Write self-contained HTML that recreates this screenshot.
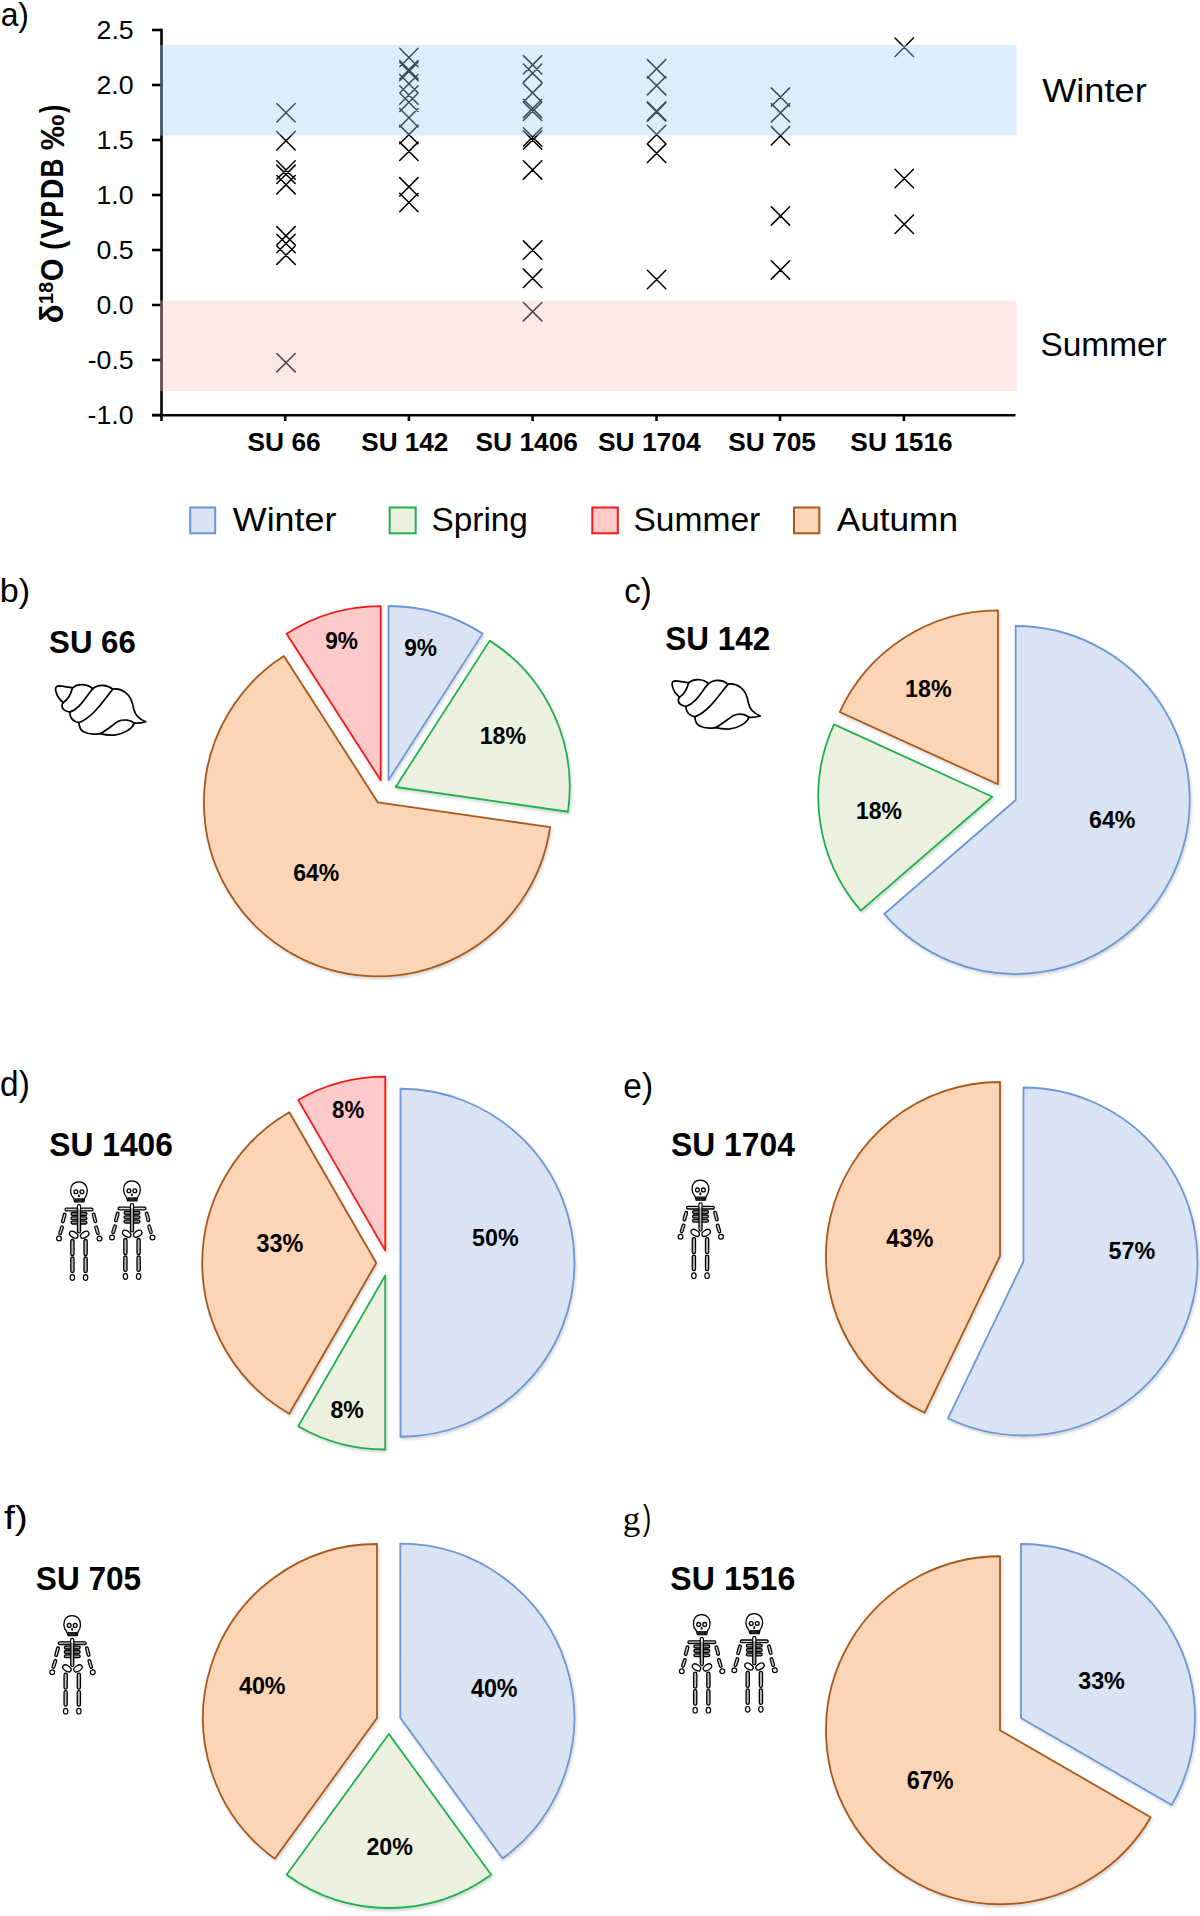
<!DOCTYPE html>
<html><head><meta charset="utf-8"><title>Figure</title>
<style>
html,body{margin:0;padding:0;background:#fff;}
svg{display:block;}
text{font-kerning:none;}
</style></head>
<body>
<svg width="1200" height="1916" viewBox="0 0 1200 1916">
<defs><filter id="sh" x="-10%" y="-10%" width="120%" height="120%"><feGaussianBlur in="SourceAlpha" stdDeviation="1.6"/><feOffset dx="0.8" dy="1.6" result="o"/><feComponentTransfer><feFuncA type="linear" slope="0.18"/></feComponentTransfer><feMerge><feMergeNode/><feMergeNode in="SourceGraphic"/></feMerge></filter><g id="shell" fill="none" stroke="#000" stroke-width="19" stroke-linejoin="round" stroke-linecap="round"><path fill="#fff" d="M200,300 C165,275 130,230 118,175 C110,138 122,118 150,118 C200,120 250,135 300,140 C330,115 370,103 410,105 C460,108 500,130 520,150 C550,125 590,112 630,113 C680,115 715,135 740,155 C775,148 835,158 880,192 C940,238 958,310 968,370 C980,430 1020,480 1100,510 C1060,522 1010,528 975,525 C950,585 870,640 760,655 C700,660 640,650 600,640 C550,648 470,648 420,620 C385,600 372,560 370,520 C310,505 270,470 270,405 C225,395 185,370 185,335 C185,320 190,310 200,300 Z"/><path d="M300,140 C285,200 250,270 200,300"/><path d="M520,150 C450,230 380,370 270,405"/><path d="M740,155 C650,260 530,460 370,520"/><path d="M600,640 C680,600 740,540 800,505 C860,480 930,490 975,525"/></g><g id="skel" stroke="#000" stroke-width="13"><path fill="#fff" d="M232,4 C292,4 320,48 318,98 C316,128 306,150 292,166 L284,204 L192,204 L180,166 C164,150 152,128 151,98 C150,48 174,4 232,4 Z"/><path d="M188,168 L286,168 L281,205 L194,205 Z" fill="#111" stroke="none"/><path d="M214,172 V202 M234,172 V202 M254,172 V202" stroke="#666" stroke-width="5"/><circle cx="204" cy="102" r="19" fill="#fff" stroke-width="13"/><circle cx="264" cy="102" r="19" fill="#fff" stroke-width="13"/><path d="M234,124 C247,136 250,156 234,156 C218,156 221,136 234,124 Z" fill="#000" stroke="none"/><rect x="96" y="267" width="278" height="26" rx="13" fill="#d8d8d8"/><rect x="156" y="310" width="158" height="28" rx="14" fill="#9a9a9a"/><rect x="156" y="353" width="158" height="28" rx="14" fill="#9a9a9a"/><rect x="156" y="397" width="158" height="28" rx="14" fill="#9a9a9a"/><rect x="220" y="232" width="30" height="282" rx="15" fill="#bbb"/><rect x="226" y="240" width="18" height="40" rx="9" fill="#fff" stroke="none"/><rect x="0" y="-13.0" width="97.5" height="26" rx="13.0" transform="translate(96,318) rotate(105.46)" fill="#ddd"/><rect x="0" y="-13.0" width="89.5" height="26" rx="13.0" transform="translate(70,445) rotate(108.23)" fill="#ddd"/><rect x="0" y="-13.0" width="95.1" height="26" rx="13.0" transform="translate(378,318) rotate(75.38)" fill="#ddd"/><rect x="0" y="-13.0" width="88.9" height="26" rx="13.0" transform="translate(402,445) rotate(72.99)" fill="#ddd"/><circle cx="35" cy="570" r="24" fill="#fff" stroke-width="12"/><circle cx="440" cy="570" r="24" fill="#fff" stroke-width="12"/><ellipse cx="182" cy="532" rx="46" ry="28" transform="rotate(32 182 532)" fill="#fff"/><ellipse cx="292" cy="532" rx="46" ry="28" transform="rotate(-32 292 532)" fill="#fff"/><rect x="153" y="580" width="32" height="160" rx="16" fill="#bbb"/><rect x="153" y="755" width="32" height="155" rx="16" fill="#bbb"/><rect x="285" y="580" width="32" height="160" rx="16" fill="#bbb"/><rect x="285" y="755" width="32" height="155" rx="16" fill="#bbb"/><ellipse cx="169" cy="960" rx="22" ry="28" fill="#fff" stroke-width="12"/><ellipse cx="301" cy="960" rx="22" ry="28" fill="#fff" stroke-width="12"/></g></defs>
<rect width="1200" height="1916" fill="#fff"/>
<g stroke-linecap="butt"><line x1="161.5" y1="28.8" x2="161.5" y2="421" stroke="#000" stroke-width="2.6"/><line x1="152" y1="30" x2="161.5" y2="30" stroke="#000" stroke-width="2.6"/><line x1="152" y1="85" x2="161.5" y2="85" stroke="#000" stroke-width="2.6"/><line x1="152" y1="140" x2="161.5" y2="140" stroke="#000" stroke-width="2.6"/><line x1="152" y1="195" x2="161.5" y2="195" stroke="#000" stroke-width="2.6"/><line x1="152" y1="250" x2="161.5" y2="250" stroke="#000" stroke-width="2.6"/><line x1="152" y1="305" x2="161.5" y2="305" stroke="#000" stroke-width="2.6"/><line x1="152" y1="360" x2="161.5" y2="360" stroke="#000" stroke-width="2.6"/><line x1="152" y1="415" x2="161.5" y2="415" stroke="#000" stroke-width="2.6"/><line x1="152" y1="415.25" x2="1015.5" y2="415.25" stroke="#000" stroke-width="2.6"/><line x1="285.2" y1="415" x2="285.2" y2="421" stroke="#000" stroke-width="2.6"/><line x1="408.9" y1="415" x2="408.9" y2="421" stroke="#000" stroke-width="2.6"/><line x1="532.6" y1="415" x2="532.6" y2="421" stroke="#000" stroke-width="2.6"/><line x1="656.5" y1="415" x2="656.5" y2="421" stroke="#000" stroke-width="2.6"/><line x1="780.0" y1="415" x2="780.0" y2="421" stroke="#000" stroke-width="2.6"/><line x1="903.9" y1="415" x2="903.9" y2="421" stroke="#000" stroke-width="2.6"/></g>
<path d="M276.80,103.55L295.20,121.95M276.80,121.95L295.20,103.55M276.80,131.55L295.20,149.95M276.80,149.95L295.20,131.55M276.80,160.80L295.20,179.20M276.80,179.20L295.20,160.80M276.80,165.10L295.20,183.50M276.80,183.50L295.20,165.10M276.80,175.50L295.20,193.90M276.80,193.90L295.20,175.50M276.80,226.60L295.20,245.00M276.80,245.00L295.20,226.60M276.80,234.30L295.20,252.70M276.80,252.70L295.20,234.30M276.80,246.00L295.20,264.40M276.80,264.40L295.20,246.00M276.80,353.50L295.20,371.90M276.80,371.90L295.20,353.50M399.70,48.30L418.10,66.70M399.70,66.70L418.10,48.30M399.70,60.55L418.10,78.95M399.70,78.95L418.10,60.55M399.70,62.30L418.10,80.70M399.70,80.70L418.10,62.30M399.70,74.55L418.10,92.95M399.70,92.95L418.10,74.55M399.70,85.80L418.10,104.20M399.70,104.20L418.10,85.80M399.70,93.05L418.10,111.45M399.70,111.45L418.10,93.05M399.70,108.55L418.10,126.95M399.70,126.95L418.10,108.55M399.70,125.40L418.10,143.80M399.70,143.80L418.10,125.40M399.70,142.10L418.10,160.50M399.70,160.50L418.10,142.10M399.70,177.60L418.10,196.00M399.70,196.00L418.10,177.60M399.70,193.30L418.10,211.70M399.70,211.70L418.10,193.30M523.40,55.60L541.80,74.00M523.40,74.00L541.80,55.60M523.40,64.00L541.80,82.40M523.40,82.40L541.80,64.00M523.40,83.60L541.80,102.00M523.40,102.00L541.80,83.60M523.40,99.20L541.80,117.60M523.40,117.60L541.80,99.20M523.40,102.10L541.80,120.50M523.40,120.50L541.80,102.10M523.40,127.80L541.80,146.20M523.40,146.20L541.80,127.80M523.40,130.90L541.80,149.30M523.40,149.30L541.80,130.90M523.40,160.70L541.80,179.10M523.40,179.10L541.80,160.70M523.40,240.90L541.80,259.30M523.40,259.30L541.80,240.90M523.40,269.10L541.80,287.50M523.40,287.50L541.80,269.10M523.40,302.50L541.80,320.90M523.40,320.90L541.80,302.50M647.40,59.60L665.80,78.00M647.40,78.00L665.80,59.60M647.40,76.50L665.80,94.90M647.40,94.90L665.80,76.50M647.40,101.80L665.80,120.20M647.40,120.20L665.80,101.80M647.40,102.70L665.80,121.10M647.40,121.10L665.80,102.70M647.40,125.30L665.80,143.70M647.40,143.70L665.80,125.30M647.40,144.10L665.80,162.50M647.40,162.50L665.80,144.10M647.40,270.30L665.80,288.70M647.40,288.70L665.80,270.30M771.30,87.90L789.70,106.30M771.30,106.30L789.70,87.90M771.30,103.60L789.70,122.00M771.30,122.00L789.70,103.60M771.30,126.60L789.70,145.00M771.30,145.00L789.70,126.60M771.30,206.70L789.70,225.10M771.30,225.10L789.70,206.70M771.30,260.70L789.70,279.10M771.30,279.10L789.70,260.70M895.05,38.05L913.45,56.45M895.05,56.45L913.45,38.05M895.05,169.30L913.45,187.70M895.05,187.70L913.45,169.30M895.05,215.05L913.45,233.45M895.05,233.45L913.45,215.05" stroke="#000" stroke-width="1.5" fill="none" stroke-linecap="round"/>
<rect x="160" y="45" width="856.5" height="90.5" fill="rgb(160,208,248)" fill-opacity="0.37"/>
<rect x="160" y="300.5" width="856.5" height="90.5" fill="rgb(252,190,190)" fill-opacity="0.35"/>
<text transform="translate(96.56,39.05) scale(1.0288,1)" font-family="Liberation Sans" font-size="25.99">2.5</text>
<text transform="translate(96.48,94.05) scale(1.0288,1)" font-family="Liberation Sans" font-size="25.99">2.0</text>
<text transform="translate(96.56,148.78) scale(1.0288,1)" font-family="Liberation Sans" font-size="25.99">1.5</text>
<text transform="translate(96.48,204.05) scale(1.0288,1)" font-family="Liberation Sans" font-size="25.99">1.0</text>
<text transform="translate(96.56,259.05) scale(1.0288,1)" font-family="Liberation Sans" font-size="25.99">0.5</text>
<text transform="translate(96.48,314.05) scale(1.0288,1)" font-family="Liberation Sans" font-size="25.99">0.0</text>
<text transform="translate(87.65,369.05) scale(1.0288,1)" font-family="Liberation Sans" font-size="25.99">-0.5</text>
<text transform="translate(87.57,424.05) scale(1.0288,1)" font-family="Liberation Sans" font-size="25.99">-1.0</text>
<g transform="rotate(-90)"><text x="0" y="0" transform="translate(-323.19,63.43) scale(0.9529,1)" font-family="Liberation Sans" font-weight="bold" font-size="32.34" fill="#000">δ</text><text x="0" y="0" transform="translate(-304.17,52.50) scale(0.9808,1)" font-family="Liberation Sans" font-weight="bold" font-size="20.62" fill="#000">18</text><text x="0" y="0" transform="translate(-281.20,63.29) scale(0.9276,1)" font-family="Liberation Sans" font-weight="bold" font-size="31.50" fill="#000">O</text><text x="0" y="0" transform="translate(-249.64,62.80) scale(0.8339,1)" font-family="Liberation Sans" font-weight="bold" font-size="32.29" fill="#000">(</text><text x="0" y="0" transform="translate(-238.70,63.40) scale(0.9404,1)" font-family="Liberation Sans" font-weight="bold" font-size="31.25" fill="#000">V</text><text x="0" y="0" transform="translate(-217.69,63.40) scale(0.8011,1)" font-family="Liberation Sans" font-weight="bold" font-size="31.54" fill="#000">P</text><text x="0" y="0" transform="translate(-199.21,63.40) scale(0.9047,1)" font-family="Liberation Sans" font-weight="bold" font-size="31.54" fill="#000">D</text><text x="0" y="0" transform="translate(-177.57,63.40) scale(0.8370,1)" font-family="Liberation Sans" font-weight="bold" font-size="31.54" fill="#000">B</text><text x="0" y="0" transform="translate(-150.22,63.95) scale(1.0818,1)" font-family="Liberation Sans" font-weight="bold" font-size="33.13" fill="#000">‰</text><text x="0" y="0" transform="translate(-112.92,62.80) scale(0.7571,1)" font-family="Liberation Sans" font-weight="bold" font-size="32.29" fill="#000">)</text></g>
<text x="0" y="0" transform="translate(247.54,450.55) scale(1.0108,1)" font-family="Liberation Sans" font-weight="bold" font-size="26.06" fill="#000">SU 66</text>
<text x="0" y="0" transform="translate(361.25,450.55) scale(1.0021,1)" font-family="Liberation Sans" font-weight="bold" font-size="26.06" fill="#000">SU 142</text>
<text x="0" y="0" transform="translate(475.54,450.55) scale(1.0098,1)" font-family="Liberation Sans" font-weight="bold" font-size="26.06" fill="#000">SU 1406</text>
<text x="0" y="0" transform="translate(597.94,450.55) scale(1.0127,1)" font-family="Liberation Sans" font-weight="bold" font-size="26.06" fill="#000">SU 1704</text>
<text x="0" y="0" transform="translate(728.34,450.55) scale(1.0089,1)" font-family="Liberation Sans" font-weight="bold" font-size="26.06" fill="#000">SU 705</text>
<text x="0" y="0" transform="translate(850.34,450.55) scale(1.0098,1)" font-family="Liberation Sans" font-weight="bold" font-size="26.06" fill="#000">SU 1516</text>
<text x="0" y="0" transform="translate(1042.14,102.20) scale(1.0849,1)" font-family="Liberation Sans" font-weight="normal" font-size="33.36" fill="#000">Winter</text>
<text x="0" y="0" transform="translate(1040.38,356.25) scale(1.0092,1)" font-family="Liberation Sans" font-weight="normal" font-size="33.15" fill="#000">Summer</text>
<text x="0" y="0" transform="translate(0.65,25.75) scale(0.9423,1)" font-family="Liberation Sans" font-weight="normal" font-size="33.81" fill="#000">a)</text>
<rect x="190.20" y="507.50" width="25.00" height="25.80" fill="#dae3f3" stroke="#6b97d6" stroke-width="2.0"/>
<text x="0" y="0" transform="translate(232.84,531.30) scale(1.0583,1)" font-family="Liberation Sans" font-weight="normal" font-size="33.87" fill="#000">Winter</text>
<rect x="389.70" y="507.50" width="26.00" height="25.80" fill="#ebf1de" stroke="#22b04e" stroke-width="2.0"/>
<text x="0" y="0" transform="translate(431.48,531.30) scale(1.0001,1)" font-family="Liberation Sans" font-weight="normal" font-size="33.37" fill="#000">Spring</text>
<rect x="592.30" y="507.50" width="25.50" height="25.80" fill="#fdc9c9" stroke="#f01c1c" stroke-width="2.0"/>
<text x="0" y="0" transform="translate(633.48,531.30) scale(1.0056,1)" font-family="Liberation Sans" font-weight="normal" font-size="33.37" fill="#000">Summer</text>
<rect x="794.00" y="507.50" width="25.30" height="25.80" fill="#fbd5b5" stroke="#a9581c" stroke-width="2.0"/>
<text x="0" y="0" transform="translate(836.63,531.30) scale(1.0406,1)" font-family="Liberation Sans" font-weight="normal" font-size="33.87" fill="#000">Autumn</text>
<g filter="url(#sh)"><path d="M388.50,780.00L388.50,606.00A174,174 0 0 1 482.57,633.62Z" fill="#dae3f3" stroke="#6b97d6" stroke-width="1.8" stroke-linejoin="round"/><path d="M395.70,787.00L489.77,640.62A174,174 0 0 1 567.93,811.76Z" fill="#ebf1de" stroke="#22b04e" stroke-width="1.8" stroke-linejoin="round"/><path d="M377.90,802.40L550.13,827.16A174,174 0 1 1 283.83,656.02Z" fill="#fbd5b5" stroke="#a9581c" stroke-width="1.8" stroke-linejoin="round"/><path d="M380.70,780.20L286.63,633.82A174,174 0 0 1 380.70,606.20Z" fill="#fdc9c9" stroke="#f01c1c" stroke-width="1.8" stroke-linejoin="round"/></g>
<g filter="url(#sh)"><path d="M1015.70,800.00L1015.70,626.00A174,174 0 1 1 884.20,913.95Z" fill="#dae3f3" stroke="#6b97d6" stroke-width="1.8" stroke-linejoin="round"/><path d="M992.30,796.70L860.80,910.65A174,174 0 0 1 834.02,724.42Z" fill="#ebf1de" stroke="#22b04e" stroke-width="1.8" stroke-linejoin="round"/><path d="M998.00,784.30L839.72,712.02A174,174 0 0 1 998.00,610.30Z" fill="#fbd5b5" stroke="#a9581c" stroke-width="1.8" stroke-linejoin="round"/></g>
<g filter="url(#sh)"><path d="M400.50,1262.75L400.50,1088.75A174,174 0 0 1 400.50,1436.75Z" fill="#dae3f3" stroke="#6b97d6" stroke-width="1.8" stroke-linejoin="round"/><path d="M385.25,1275.50L385.25,1449.50A174,174 0 0 1 298.25,1426.19Z" fill="#ebf1de" stroke="#22b04e" stroke-width="1.8" stroke-linejoin="round"/><path d="M376.25,1263.00L289.25,1413.69A174,174 0 0 1 289.25,1112.31Z" fill="#fbd5b5" stroke="#a9581c" stroke-width="1.8" stroke-linejoin="round"/><path d="M385.25,1250.60L298.25,1099.91A174,174 0 0 1 385.25,1076.60Z" fill="#fdc9c9" stroke="#f01c1c" stroke-width="1.8" stroke-linejoin="round"/></g>
<g filter="url(#sh)"><path d="M1023.50,1261.50L1023.50,1087.50A174,174 0 1 1 948.00,1418.27Z" fill="#dae3f3" stroke="#6b97d6" stroke-width="1.8" stroke-linejoin="round"/><path d="M1000.00,1256.00L924.50,1412.77A174,174 0 0 1 1000.00,1082.00Z" fill="#fbd5b5" stroke="#a9581c" stroke-width="1.8" stroke-linejoin="round"/></g>
<g filter="url(#sh)"><path d="M400.30,1717.70L400.30,1543.70A174,174 0 0 1 502.57,1858.47Z" fill="#dae3f3" stroke="#6b97d6" stroke-width="1.8" stroke-linejoin="round"/><path d="M388.90,1734.00L491.17,1874.77A174,174 0 0 1 286.63,1874.77Z" fill="#ebf1de" stroke="#22b04e" stroke-width="1.8" stroke-linejoin="round"/><path d="M377.00,1718.00L274.73,1858.77A174,174 0 0 1 377.00,1544.00Z" fill="#fbd5b5" stroke="#a9581c" stroke-width="1.8" stroke-linejoin="round"/></g>
<g filter="url(#sh)"><path d="M1021.00,1718.00L1021.00,1544.00A174,174 0 0 1 1171.69,1805.00Z" fill="#dae3f3" stroke="#6b97d6" stroke-width="1.8" stroke-linejoin="round"/><path d="M1000.00,1730.25L1150.69,1817.25A174,174 0 1 1 1000.00,1556.25Z" fill="#fbd5b5" stroke="#a9581c" stroke-width="1.8" stroke-linejoin="round"/></g>
<text x="0" y="0" transform="translate(325.21,648.58) scale(0.9853,1)" font-family="Liberation Sans" font-weight="bold" font-size="23.02" fill="#000">9%</text>
<text x="0" y="0" transform="translate(404.21,655.66) scale(0.9259,1)" font-family="Liberation Sans" font-weight="bold" font-size="24.58" fill="#000">9%</text>
<text x="0" y="0" transform="translate(479.64,743.67) scale(0.9706,1)" font-family="Liberation Sans" font-weight="bold" font-size="23.87" fill="#000">18%</text>
<text x="0" y="0" transform="translate(293.16,880.76) scale(0.9437,1)" font-family="Liberation Sans" font-weight="bold" font-size="24.43" fill="#000">64%</text>
<text x="0" y="0" transform="translate(905.03,696.77) scale(0.9693,1)" font-family="Liberation Sans" font-weight="bold" font-size="24.01" fill="#000">18%</text>
<text x="0" y="0" transform="translate(856.05,818.76) scale(0.9472,1)" font-family="Liberation Sans" font-weight="bold" font-size="24.29" fill="#000">18%</text>
<text x="0" y="0" transform="translate(1089.05,827.51) scale(0.9528,1)" font-family="Liberation Sans" font-weight="bold" font-size="24.36" fill="#000">64%</text>
<text x="0" y="0" transform="translate(332.09,1118.37) scale(0.9332,1)" font-family="Liberation Sans" font-weight="bold" font-size="23.87" fill="#000">8%</text>
<text x="0" y="0" transform="translate(256.46,1251.72) scale(0.9384,1)" font-family="Liberation Sans" font-weight="bold" font-size="24.95" fill="#000">33%</text>
<text x="0" y="0" transform="translate(330.52,1418.01) scale(0.9333,1)" font-family="Liberation Sans" font-weight="bold" font-size="24.72" fill="#000">8%</text>
<text x="0" y="0" transform="translate(471.98,1245.76) scale(0.9535,1)" font-family="Liberation Sans" font-weight="bold" font-size="24.43" fill="#000">50%</text>
<text x="0" y="0" transform="translate(886.34,1246.72) scale(0.9407,1)" font-family="Liberation Sans" font-weight="bold" font-size="24.95" fill="#000">43%</text>
<text x="0" y="0" transform="translate(1108.58,1259.46) scale(0.9468,1)" font-family="Liberation Sans" font-weight="bold" font-size="24.66" fill="#000">57%</text>
<text x="0" y="0" transform="translate(238.95,1693.77) scale(0.9711,1)" font-family="Liberation Sans" font-weight="bold" font-size="24.01" fill="#000">40%</text>
<text x="0" y="0" transform="translate(470.95,1696.76) scale(0.9327,1)" font-family="Liberation Sans" font-weight="bold" font-size="25.00" fill="#000">40%</text>
<text x="0" y="0" transform="translate(366.39,1855.46) scale(0.9457,1)" font-family="Liberation Sans" font-weight="bold" font-size="24.58" fill="#000">20%</text>
<text x="0" y="0" transform="translate(1078.16,1689.02) scale(0.9416,1)" font-family="Liberation Sans" font-weight="bold" font-size="24.81" fill="#000">33%</text>
<text x="0" y="0" transform="translate(906.84,1789.06) scale(0.9401,1)" font-family="Liberation Sans" font-weight="bold" font-size="24.86" fill="#000">67%</text>
<text x="0" y="0" transform="translate(-0.20,601.72) scale(1.0114,1)" font-family="Liberation Sans" font-weight="normal" font-size="33.70" fill="#000">b)</text>
<text x="0" y="0" transform="translate(624.35,603.10) scale(0.9606,1)" font-family="Liberation Sans" font-weight="normal" font-size="34.29" fill="#000">c)</text>
<text x="0" y="0" transform="translate(0.10,1096.33) scale(0.9658,1)" font-family="Liberation Sans" font-weight="normal" font-size="34.62" fill="#000">d)</text>
<text x="0" y="0" transform="translate(623.33,1098.08) scale(0.9664,1)" font-family="Liberation Sans" font-weight="normal" font-size="34.62" fill="#000">e)</text>
<text x="0" y="0" transform="translate(3.94,1529.00) scale(1.1616,1)" font-family="Liberation Sans" font-weight="normal" font-size="33.81" fill="#000">f)</text>
<text x="0" y="0" transform="translate(622.69,1530.05) scale(1.0770,1)" font-family="Liberation Serif" font-weight="normal" font-size="32.65" fill="#000">g</text>
<text x="0" y="0" transform="translate(642.96,1529.81) scale(0.7160,1)" font-family="Liberation Sans" font-weight="normal" font-size="34.24" fill="#000">)</text>
<text x="0" y="0" transform="translate(49.10,652.99) scale(0.9776,1)" font-family="Liberation Sans" font-weight="bold" font-size="31.92" fill="#000">SU 66</text>
<text x="0" y="0" transform="translate(665.34,650.38) scale(0.9704,1)" font-family="Liberation Sans" font-weight="bold" font-size="32.41" fill="#000">SU 142</text>
<text x="0" y="0" transform="translate(49.34,1155.68) scale(0.9669,1)" font-family="Liberation Sans" font-weight="bold" font-size="32.84" fill="#000">SU 1406</text>
<text x="0" y="0" transform="translate(671.08,1155.98) scale(0.9666,1)" font-family="Liberation Sans" font-weight="bold" font-size="32.91" fill="#000">SU 1704</text>
<text x="0" y="0" transform="translate(35.84,1589.68) scale(0.9613,1)" font-family="Liberation Sans" font-weight="bold" font-size="32.84" fill="#000">SU 705</text>
<text x="0" y="0" transform="translate(670.37,1589.68) scale(0.9759,1)" font-family="Liberation Sans" font-weight="bold" font-size="32.91" fill="#000">SU 1516</text>
<use href="#shell" transform="translate(45,675) scale(0.091667)"/>
<use href="#shell" transform="translate(661.7,670.2) scale(0.0897)"/>
<use href="#skel" transform="translate(55.5,1181.5) scale(0.1)"/>
<use href="#skel" transform="translate(108.5,1180.5) scale(0.1)"/>
<use href="#skel" transform="translate(677,1179.7) scale(0.1)"/>
<use href="#skel" transform="translate(48.75,1615.2) scale(0.1)"/>
<use href="#skel" transform="translate(678.3,1614.2) scale(0.1)"/>
<use href="#skel" transform="translate(730.8,1613.3) scale(0.1)"/>
</svg>
</body></html>
